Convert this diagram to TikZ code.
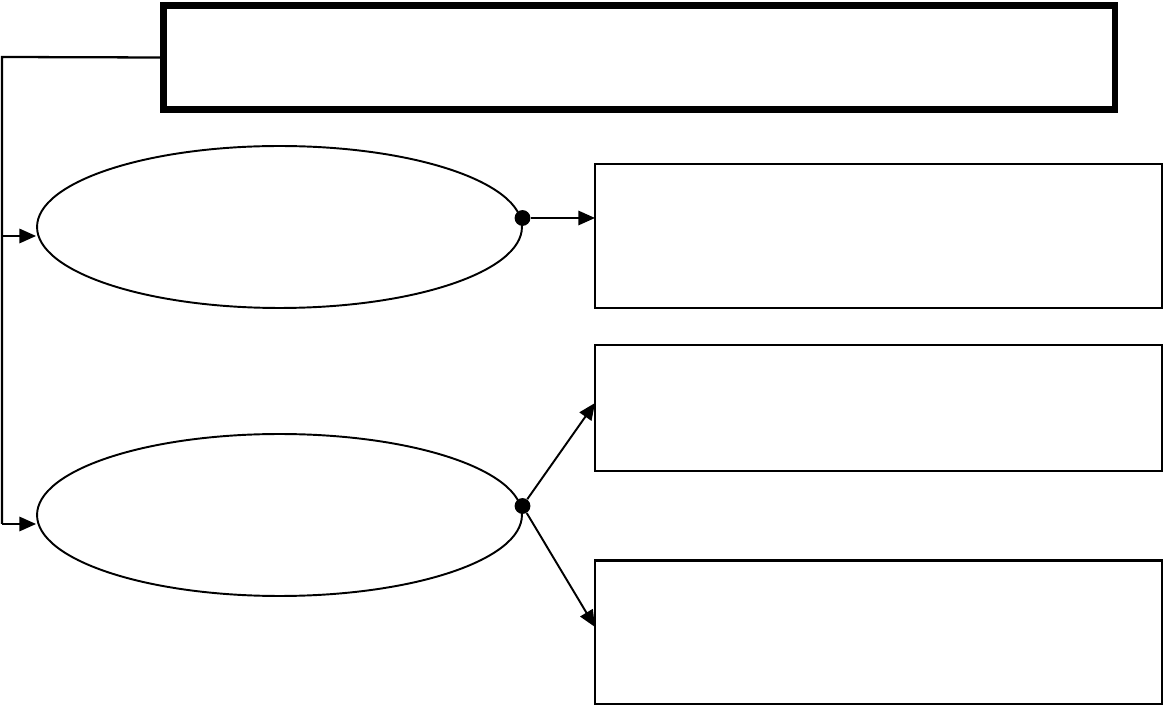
\documentclass[tikz,border=0pt]{standalone}
\usepackage{tikz}
\usetikzlibrary{shapes.geometric}
\usetikzlibrary{arrows.meta}

\begin{document}
\begin{tikzpicture}[x=0.02cm,y=-0.02cm,
	tip/.style={-{Triangle[length=9.5pt,width=8.2pt]}},
	oval/.style={draw,ellipse,line width=1.1pt,minimum width=9.7cm,minimum height=3.24cm,inner sep=0pt},
	panel/.style={draw,rectangle,line width=1.4pt,minimum width=11.34cm,inner sep=0pt},
	blob/.style={circle,fill,inner sep=0pt,minimum size=9pt}]
	\useasboundingbox (0,0) rectangle (1163,705);
	\node[draw,line width=3.6pt,minimum width=19.03cm,minimum height=2.08cm,inner sep=0pt] (title) at (639.25,57.5) {};
	\node[oval] (e1) at (279.5,227) {};
	\node[oval] (e2) at (279.5,515) {};
	\node[panel,minimum height=2.88cm] (b1) at (878.5,236) {};
	\node[panel,minimum height=2.52cm] (b2) at (878.5,408) {};
	\node[panel,minimum height=2.87cm] (b3) at (878.5,632.25) {};
	\node[blob] (d1) at (522.5,218) {};
	\node[blob] (d2) at (522.5,506) {};
	\coordinate (c1) at (2,57);
	\coordinate (c2) at (2,236);
	\coordinate (c3) at (2,524);
	\coordinate (t1) at (595,218);
	\coordinate (t2) at (595,403);
	\coordinate (t3) at (595,627);
	\draw[line width=1.3pt] (title.west) -- (c1) -- (c3);
	\draw[line width=1.1pt,tip] (c2) -- (e1.west |- c2);
	\draw[line width=1.1pt,tip] (c3) -- (e2.west |- c3);
	\draw[line width=1.1pt,tip] (d1) -- (t1);
	\draw[line width=1.1pt,tip] (d2) -- (t2);
	\draw[line width=1.1pt,tip] (d2) -- (t3);
\end{tikzpicture}
\end{document}
